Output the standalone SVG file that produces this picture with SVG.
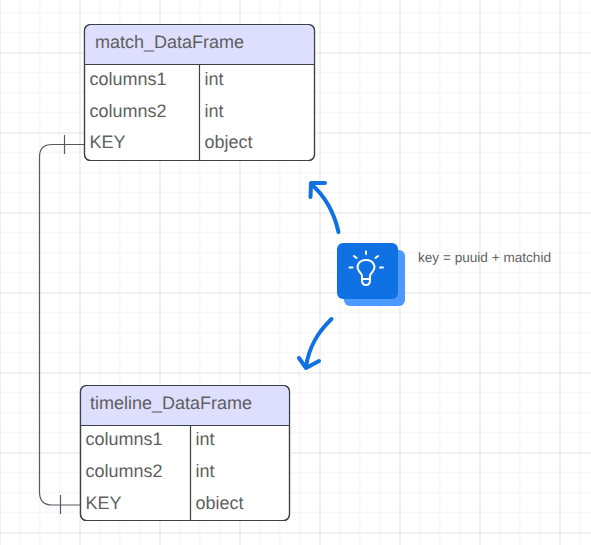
<svg xmlns="http://www.w3.org/2000/svg" width="591" height="545" viewBox="0 0 591 545">
<defs>
<pattern id="grid" width="80" height="80" patternUnits="userSpaceOnUse" x="-0.5" y="-27.5">
<path d="M20 0V80M40 0V80M60 0V80M0 20H80M0 40H80M0 60H80" fill="none" stroke="#f0f0f0" stroke-width="1"/>
<path d="M0 0V80M0 0H80" fill="none" stroke="#e3e3e3" stroke-width="2"/>
</pattern>
</defs>
<style>
text{font-family:"Liberation Sans",Arial,sans-serif;fill:#5f5f5f;font-size:18px;text-rendering:geometricPrecision}
.frame{fill:#fff;stroke:#3a414a;stroke-width:1.2}
.head{fill:#dedeff;stroke:none}
.sep{stroke:#3a414a;stroke-width:1.2;fill:none}
.line{stroke:#555b63;stroke-width:1.2;fill:none}
.arrow{stroke:#1071e5;stroke-width:4;fill:none;stroke-linecap:round;stroke-linejoin:round}
.ico{stroke:#fff;stroke-width:2;fill:none;stroke-linecap:round;stroke-linejoin:round}
</style>
<rect width="591" height="545" fill="#fff"/>
<rect width="591" height="545" fill="url(#grid)"/>
<g id="connectors">
<path class="line" d="M85 144.500H52Q39.500 144.500 39.500 157V492Q39.500 505 52 505H81"/>
<path class="line" d="M64.500 135V154M60.500 495V514"/>
<path class="arrow" d="M338.500 232C334 212 325 196 311 184"/>
<path class="arrow" d="M325 183H311L310.500 197"/>
<path class="arrow" d="M331.500 319C318 332 309 346 306 367"/>
<path class="arrow" d="M299 358L306 368L319 361"/>
</g>
<g id="match_DataFrame">
<rect class="frame" x="84.500" y="24.500" width="230" height="136" rx="6"/>
<path class="head" d="M85 64.500V31Q85 25 91 25H308Q314 25 314 31V64.500Z"/>
<rect x="84.500" y="24.500" width="230" height="136" rx="6" fill="none" stroke="#3a414a" stroke-width="1.200"/>
<path class="sep" d="M85 64.500H314M199.500 64.500V160"/>
<text x="95" y="48">match_DataFrame</text>
<text x="89.500" y="85">columns1</text><text x="204.500" y="85">int</text>
<text x="89.500" y="116.500">columns2</text><text x="204.500" y="116.500">int</text>
<text x="89.500" y="148">KEY</text><text x="204.500" y="148">object</text>
</g>
<g id="timeline_DataFrame">
<rect class="frame" x="80.500" y="385.500" width="209" height="135" rx="6"/>
<path class="head" d="M81 425V392Q81 386 87 386H283Q289 386 289 392V425Z"/>
<rect x="80.500" y="385.500" width="209" height="135" rx="6" fill="none" stroke="#3a414a" stroke-width="1.200"/>
<path class="sep" d="M81 425.500H289M190.500 425.500V520"/>
<text x="90" y="409">timeline_DataFrame</text>
<text x="85.500" y="445">columns1</text><text x="195.500" y="445">int</text>
<text x="85.500" y="477">columns2</text><text x="195.500" y="477">int</text>
<text x="85.500" y="509">KEY</text><text x="195.500" y="509">obiect</text>
</g>
<g id="idea">
<rect x="344" y="250" width="61" height="56" rx="6" fill="#4c9aff"/>
<rect x="337" y="243" width="61" height="56" rx="6" fill="#1071e5"/>
<path class="ico" d="M362 280V276C362 274 360 273 359 271C356 267 358 260 366 260C374 260 376 267 373 271C372 273 370 274 370 276V280Q370 285 366 285Q362 285 362 280ZM362 279H370"/>
<path class="ico" d="M366 251.500V254M354 256L356.500 258M378 256L375.500 258M349.500 267.500H352.500M380 267.500H383"/>
</g>
<text x="418" y="262" style="font-size:13.600px">key = puuid + matchid</text>
</svg>
